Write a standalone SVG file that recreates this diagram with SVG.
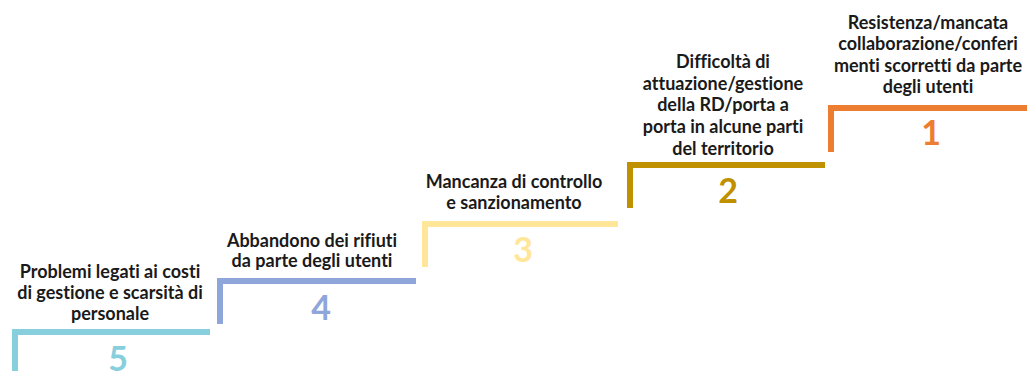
<svg xmlns="http://www.w3.org/2000/svg" width="1031" height="371" viewBox="0 0 1031 371">
<style>
.lbl{font-family:Lato,"Open Sans","Liberation Sans",sans-serif;font-weight:bold;font-size:18px;fill:#1a1a1a;text-anchor:middle;font-variant-ligatures:none;font-feature-settings:"liga" 0,"dlig" 0}
.num{font-family:Lato,"Open Sans","Liberation Sans",sans-serif;font-weight:bold;font-size:34px;text-anchor:middle}
.step{fill:none;stroke-width:6;stroke-linecap:butt;stroke-linejoin:miter}
</style>
<rect width="1031" height="371" fill="#ffffff"/>
<g id="step5">
<path class="step" stroke="#88CFDD" d="M15,371 V332 H210"/>
<text class="num" fill="#88CFDD" x="118" y="371">5</text>
<text class="lbl" x="110" y="278">Problemi legati ai costi</text>
<text class="lbl" x="110" y="299">di gestione e scarsità di</text>
<text class="lbl" x="110" y="320">personale</text>
</g>
<g id="step4">
<path class="step" stroke="#8FA6DA" d="M220,324 V281 H416"/>
<text class="num" fill="#8FA6DA" x="321" y="320">4</text>
<text class="lbl" x="312" y="247">Abbandono dei rifiuti</text>
<text class="lbl" x="312" y="267">da parte degli utenti</text>
</g>
<g id="step3">
<path class="step" stroke="#FFE699" d="M425,267 V224 H618"/>
<text class="num" fill="#FFE699" x="523" y="262">3</text>
<text class="lbl" x="514" y="188">Mancanza di controllo</text>
<text class="lbl" x="514" y="209">e sanzionamento</text>
</g>
<g id="step2">
<path class="step" stroke="#BF9000" d="M630,208 V165 H825"/>
<text class="num" fill="#BF9000" x="728" y="203">2</text>
<text class="lbl" x="723" y="68">Difficoltà di</text>
<text class="lbl" x="723" y="90">attuazione/gestione</text>
<text class="lbl" x="723" y="111">della RD/porta a</text>
<text class="lbl" x="723" y="133">porta in alcune parti</text>
<text class="lbl" x="723" y="155">del territorio</text>
</g>
<g id="step1">
<path class="step" stroke="#ED7D31" d="M831,152 V108 H1027"/>
<text class="num" fill="#ED7D31" x="931" y="145">1</text>
<text class="lbl" x="928" y="29">Resistenza/mancata</text>
<text class="lbl" x="928" y="50">collaborazione/conferi</text>
<text class="lbl" x="928" y="72">menti scorretti da parte</text>
<text class="lbl" x="928" y="93">degli utenti</text>
</g>
<g id="connectors"></g>
</svg>
